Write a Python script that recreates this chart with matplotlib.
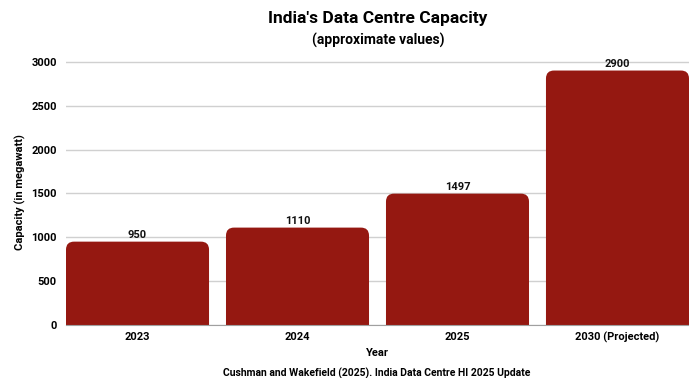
import matplotlib.pyplot as plt
from matplotlib.patches import FancyBboxPatch

years = ["2023", "2024", "2025", "2030 (Projected)"]
capacity = [950, 1110, 1497, 2900]

plt.rcParams['font.family'] = ['Roboto', 'DejaVu Sans']
narrow = ['Liberation Sans Narrow', 'Roboto', 'DejaVu Sans']

fig = plt.figure(figsize=(6.89, 3.78), dpi=100)
ax = fig.add_axes([66 / 689, 1 - 325 / 378, (689 - 66) / 689, (325 - 60) / 378])

x = range(len(years))
bars = ax.bar(x, capacity, width=0.894, color='#951811', zorder=2)

# swap the plain bars for ones with rounded tops
for b in bars:
    bx, bw, h = b.get_x(), b.get_width(), b.get_height()
    b.set_visible(False)
    p = FancyBboxPatch((bx, -200), bw, h + 200,
                       boxstyle="round,pad=0,rounding_size=0.05",
                       mutation_aspect=1820, fc='#951811', ec='none', zorder=2)
    ax.add_patch(p)
    ax.text(bx + bw / 2, h + 20, str(int(h)), ha='center', va='bottom',
            fontsize=8, fontweight='bold', color='#111111')

ax.set_xlim(-0.447, 3.447)
ax.set_ylim(0, 3020)
ax.set_yticks([0, 500, 1000, 1500, 2000, 2500, 3000])
ax.set_xticks(list(x))
ax.set_xticklabels(years)
ax.tick_params(length=0, labelsize=8)
ax.tick_params(axis='y', pad=6.5)
ax.tick_params(axis='x', pad=5)
for lbl in ax.get_xticklabels() + ax.get_yticklabels():
    lbl.set_fontweight('bold')
ax.grid(axis='y', color='#d0d0d0', lw=1, zorder=0)
for s in ['top', 'right', 'left']:
    ax.spines[s].set_visible(False)
ax.spines['bottom'].set_color('#a0a0a0')

ax.set_xlabel("Year", fontsize=8, fontweight='bold')
ax.set_ylabel("Capacity (in megawatt)", fontsize=8, fontweight='bold')
ax.xaxis.set_label_coords(0.5, -(353 - 325) / 265, transform=ax.transAxes)
ax.yaxis.set_label_coords((20 - 66) / 623, 0.5, transform=ax.transAxes)
ax.xaxis.label.set_va('center')
ax.yaxis.label.set_va('center')

fig.text(378 / 689, 1 - 18 / 378, "India's Data Centre Capacity", ha='center', va='center',
         fontsize=12.5, fontweight='bold', family=narrow)
fig.text(378 / 689, 1 - 40 / 378, "(approximate values)", ha='center', va='center',
         fontsize=10, fontweight='bold', family=narrow)
fig.text(377 / 689, 1 - 373 / 378, "Cushman and Wakefield (2025). India Data Centre HI 2025 Update",
         ha='center', va='center', fontsize=7.5, fontweight='bold')

fig.savefig("out.png", dpi=100)
